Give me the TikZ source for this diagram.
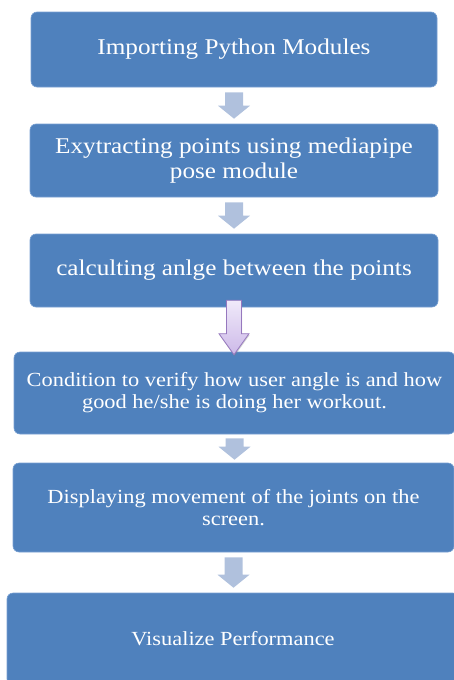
\documentclass[tikz,border=0pt]{standalone}
\usepackage{fontspec}
\setmainfont{Liberation Serif}[FakeStretch=1.12]
\usetikzlibrary{calc,shadows}
\definecolor{boxblue}{RGB}{79,129,189}
\definecolor{boxedge}{RGB}{120,160,210}
\definecolor{arrgray}{RGB}{176,193,221}
\definecolor{purpedge}{RGB}{150,120,190}
\definecolor{purplight}{RGB}{240,234,250}
\definecolor{purpdark}{RGB}{205,185,232}
\tikzset{
  box/.style={rectangle, rounded corners=6pt, fill=boxblue, draw=boxedge, line width=0.6pt,
    text=white, align=center, inner sep=0pt},
  bigtext/.style={font=\fontsize{22.5}{25}\selectfont},
  smalltext/.style={font=\fontsize{20}{22}\selectfont},
  grayarrow/.style={fill=arrgray},
  purparrow/.style={draw=purpedge, line width=0.8pt, top color=purplight, bottom color=purpdark,
    drop shadow={shadow xshift=0.5pt, shadow yshift=-1.5pt, opacity=0.35}},
}
% arrow from node #2 to node #3, offsets #4 (top) and #5 (bottom), style #1
\newcommand\flowarr[5][grayarrow]{%
  \path let \p1=(#2.south), \p2=(#3.north) in
    [#1] (\x1-9pt,\y1-#4) -- (\x1+9pt,\y1-#4) -- (\x1+9pt,\y2+#5+13pt)
    -- (\x1+16pt,\y2+#5+13pt) -- (\x1,\y2+#5) -- (\x1-16pt,\y2+#5+13pt)
    -- (\x1-9pt,\y2+#5+13pt) -- cycle;}
\begin{document}
\begin{tikzpicture}[x=1pt,y=-1pt]
\useasboundingbox (0,0) rectangle (454,680);
\clip (0,0) rectangle (454,680);
\node[box, bigtext, minimum width=406pt, minimum height=75pt] (b1) at (234,49.5) {Importing Python Modules};
\node[box, bigtext, minimum width=408pt, minimum height=73pt] (b2) at (234,160.5) {Exytracting points using mediapipe\\pose module};
\node[box, bigtext, minimum width=408pt, minimum height=73pt] (b3) at (234,270.5) {calculting anlge between the points};
\node[box, smalltext, minimum width=441pt, minimum height=82pt] (b4) at (234.5,393) {Condition to verify how user angle is and how\\good he/she is doing her workout.};
\node[box, smalltext, minimum width=441pt, minimum height=89pt] (b5) at (233.5,507.5) {Displaying movement of the joints on the\\screen.};
\node[box, smalltext, minimum width=452pt, minimum height=92pt] (b6) at (233,639) {Visualize Performance};
\flowarr{b1}{b2}{5pt}{5pt}
\flowarr{b2}{b3}{5pt}{5pt}
\path let \p1=(b3.south), \p2=(b4.north) in
  [purparrow] (\x1-7.5pt,\y1+7pt) -- (\x1+7.5pt,\y1+7pt) -- (\x1+7.5pt,\y2+18pt)
  -- (\x1+15pt,\y2+18pt) -- (\x1,\y2-3pt) -- (\x1-15pt,\y2+18pt)
  -- (\x1-7.5pt,\y2+18pt) -- cycle;
\flowarr{b4}{b5}{4pt}{3pt}
\flowarr{b5}{b6}{5pt}{5pt}
\end{tikzpicture}
\end{document}
